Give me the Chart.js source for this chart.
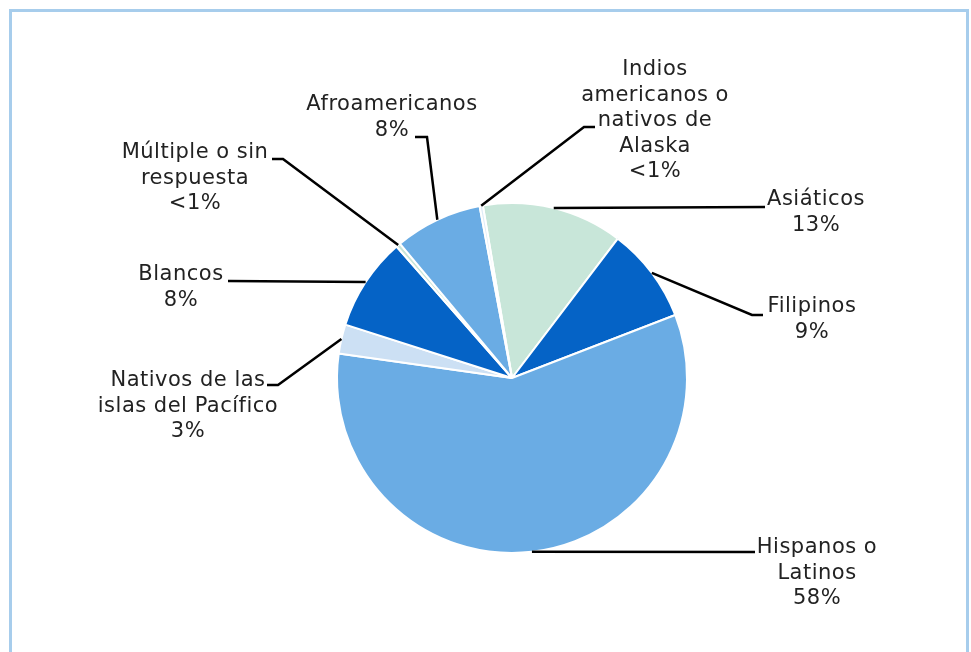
<!DOCTYPE html>
<html>
<head>
<meta charset="utf-8">
<script src="https://cdn.jsdelivr.net/npm/chart.js@4"></script>
<style>
  html, body { margin: 0; padding: 0; background: #fff; }
  #wrap { position: relative; width: 971px; height: 652px; }
  #frame { position: absolute; left: 9px; top: 9px; width: 960px; height: 660px; border: 3px solid #A7CDEC; box-sizing: border-box; }
  canvas { position: absolute; left: 0; top: 0; }
</style>
</head>
<body>
<div id="wrap">
  <div id="frame"></div>
  <canvas id="pie" width="971" height="652"></canvas>
</div>
<script>
// data (percent shares, clockwise from Asiáticos)
const categories = [
  ["Asiáticos"],
  ["Filipinos"],
  ["Hispanos o", "Latinos"],
  ["Nativos de las", "islas del Pacífico"],
  ["Blancos"],
  ["Múltiple o sin", "respuesta"],
  ["Afroamericanos"],
  ["Indios", "americanos o", "nativos de", "Alaska"]
];
const shares = [13.0, 8.8, 58.1, 2.7, 8.6, 0.4, 8.1, 0.3];
const pctLabels = ["13%", "9%", "58%", "3%", "8%", "<1%", "8%", "<1%"];

const colors = ["#C8E6D9", "#0563C6", "#6AACE4", "#CCE0F4", "#0563C6", "#C8E6D9", "#6AACE4", "#DDEBF7"];

// label layout: text block centre x, first line y, leader elbow and end
const labelLayout = [
  { cx: 816, y: 200, elbow: [765, 207], end: [765, 207] },
  { cx: 812, y: 307, elbow: [752, 315], end: [763, 315] },
  { cx: 817, y: 548, elbow: [755, 552], end: [755, 552] },
  { cx: 188, y: 381, elbow: [278, 385], end: [267, 385] },
  { cx: 181, y: 275, elbow: [228, 281], end: [228, 281] },
  { cx: 195, y: 153, elbow: [283, 159], end: [272, 159] },
  { cx: 392, y: 105, elbow: [427, 137], end: [415, 137] },
  { cx: 655, y: 70, elbow: [584, 127], end: [595, 127] }
];

const leaderLabels = {
  id: 'leaderLabels',
  afterDatasetsDraw(chart) {
    const ctx = chart.ctx;
    const meta = chart.getDatasetMeta(0);
    ctx.save();
    meta.data.forEach((arc, i) => {
      const p = arc.getProps(['x', 'y', 'startAngle', 'endAngle', 'outerRadius'], true);
      const mid = (p.startAngle + p.endAngle) / 2;
      const sx = p.x + Math.cos(mid) * p.outerRadius;
      const sy = p.y + Math.sin(mid) * p.outerRadius;
      const L = labelLayout[i];
      ctx.strokeStyle = '#000';
      ctx.lineWidth = 2.5;
      ctx.beginPath();
      ctx.moveTo(sx, sy);
      ctx.lineTo(L.elbow[0], L.elbow[1]);
      ctx.lineTo(L.end[0], L.end[1]);
      ctx.stroke();

      const lines = categories[i].concat([pctLabels[i]]);
      ctx.fillStyle = '#222';
      ctx.font = '21px "DejaVu Sans"';
      ctx.letterSpacing = '0.5px';
      ctx.textAlign = 'center';
      ctx.textBaseline = 'middle';
      lines.forEach((t, k) => ctx.fillText(t, L.cx, L.y + k * 25.5));
    });
    ctx.restore();
  }
};

new Chart(document.getElementById('pie'), {
  type: 'pie',
  data: {
    labels: categories.map(c => c.join(' ')),
    datasets: [{
      data: shares,
      backgroundColor: colors,
      borderColor: '#fff',
      borderWidth: 2
    }]
  },
  options: {
    responsive: false,
    animation: false,
    rotation: -9.6,
    layout: { padding: { left: 336, right: 283, top: 202, bottom: 98 } },
    plugins: {
      legend: { display: false },
      tooltip: { enabled: false }
    }
  },
  plugins: [leaderLabels]
});
</script>
</body>
</html>
